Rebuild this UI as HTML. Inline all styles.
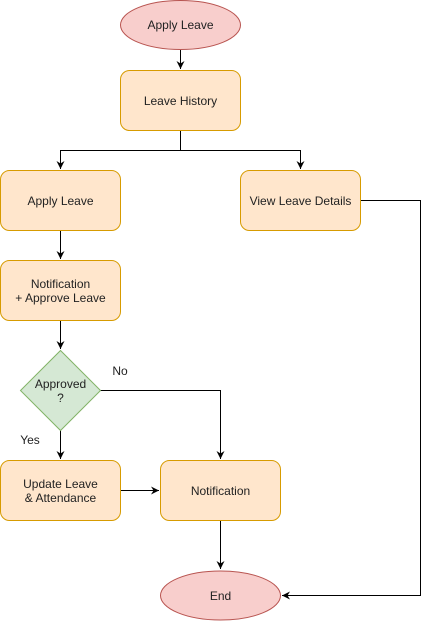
<!DOCTYPE html>
<html><head><meta charset="utf-8"><style>
html,body{margin:0;padding:0;background:#fff;width:429px;height:621px;overflow:hidden}
svg{display:block}
text{font-family:"Liberation Sans",Arial,sans-serif;font-size:12px;fill:#222}
</style></head><body>
<svg width="429" height="621" viewBox="0 0 429 621" xmlns="http://www.w3.org/2000/svg">
<defs><marker id="a" markerWidth="10" markerHeight="10" refX="8" refY="4" orient="auto" markerUnits="userSpaceOnUse"><path d="M0,0 L8,4 L0,8 L2.5,4 Z" fill="#000"/></marker></defs>
<g fill="none" stroke="#000" stroke-width="1">
<path d="M180.5,50 V69" marker-end="url(#a)"/>
<path d="M180.5,130 V150.5 H60.5 V169" marker-end="url(#a)"/>
<path d="M180.5,150.5 H300.5 V169" marker-end="url(#a)"/>
<path d="M60.5,230 V259" marker-end="url(#a)"/>
<path d="M60.5,320 V349" marker-end="url(#a)"/>
<path d="M60.5,430 V459" marker-end="url(#a)"/>
<path d="M100,390.5 H220.5 V459" marker-end="url(#a)"/>
<path d="M120,490.5 H159" marker-end="url(#a)"/>
<path d="M220.5,520 V569" marker-end="url(#a)"/>
<path d="M360,200.5 H420.5 V595.5 H282" marker-end="url(#a)"/>
</g>
<g stroke-width="1">
<ellipse cx="180.5" cy="25" rx="60" ry="24.5" fill="#f8cecc" stroke="#b85450"/>
<rect x="120.5" y="70.5" width="120" height="60" rx="9" fill="#ffe6cc" stroke="#d79b00"/>
<rect x="0.5" y="170.5" width="120" height="60" rx="9" fill="#ffe6cc" stroke="#d79b00"/>
<rect x="240.5" y="170.5" width="120" height="60" rx="9" fill="#ffe6cc" stroke="#d79b00"/>
<rect x="0.5" y="260.5" width="120" height="60" rx="9" fill="#ffe6cc" stroke="#d79b00"/>
<path d="M60.5,350.5 L100.5,390.5 L60.5,430.5 L20.5,390.5 Z" fill="#d5e8d4" stroke="#82b366"/>
<rect x="0.5" y="460.5" width="120" height="60" rx="9" fill="#ffe6cc" stroke="#d79b00"/>
<rect x="160.5" y="460.5" width="120" height="60" rx="9" fill="#ffe6cc" stroke="#d79b00"/>
<ellipse cx="220.5" cy="595.5" rx="60" ry="24.5" fill="#f8cecc" stroke="#b85450"/>
</g>
<g text-anchor="middle">
<text x="180.5" y="29">Apply Leave</text>
<text x="180.5" y="105">Leave History</text>
<text x="60.5" y="205">Apply Leave</text>
<text x="300.5" y="205">View Leave Details</text>
<text x="60.5" y="288">Notification</text>
<text x="60.5" y="302">+ Approve Leave</text>
<text x="60.5" y="388">Approved</text>
<text x="60.5" y="402">?</text>
<text x="60.5" y="488">Update Leave</text>
<text x="60.5" y="502">&amp; Attendance</text>
<text x="220.5" y="495">Notification</text>
<text x="220.5" y="600">End</text>
<text x="120" y="375">No</text>
<text x="30" y="444">Yes</text>
</g>
</svg>
</body></html>
